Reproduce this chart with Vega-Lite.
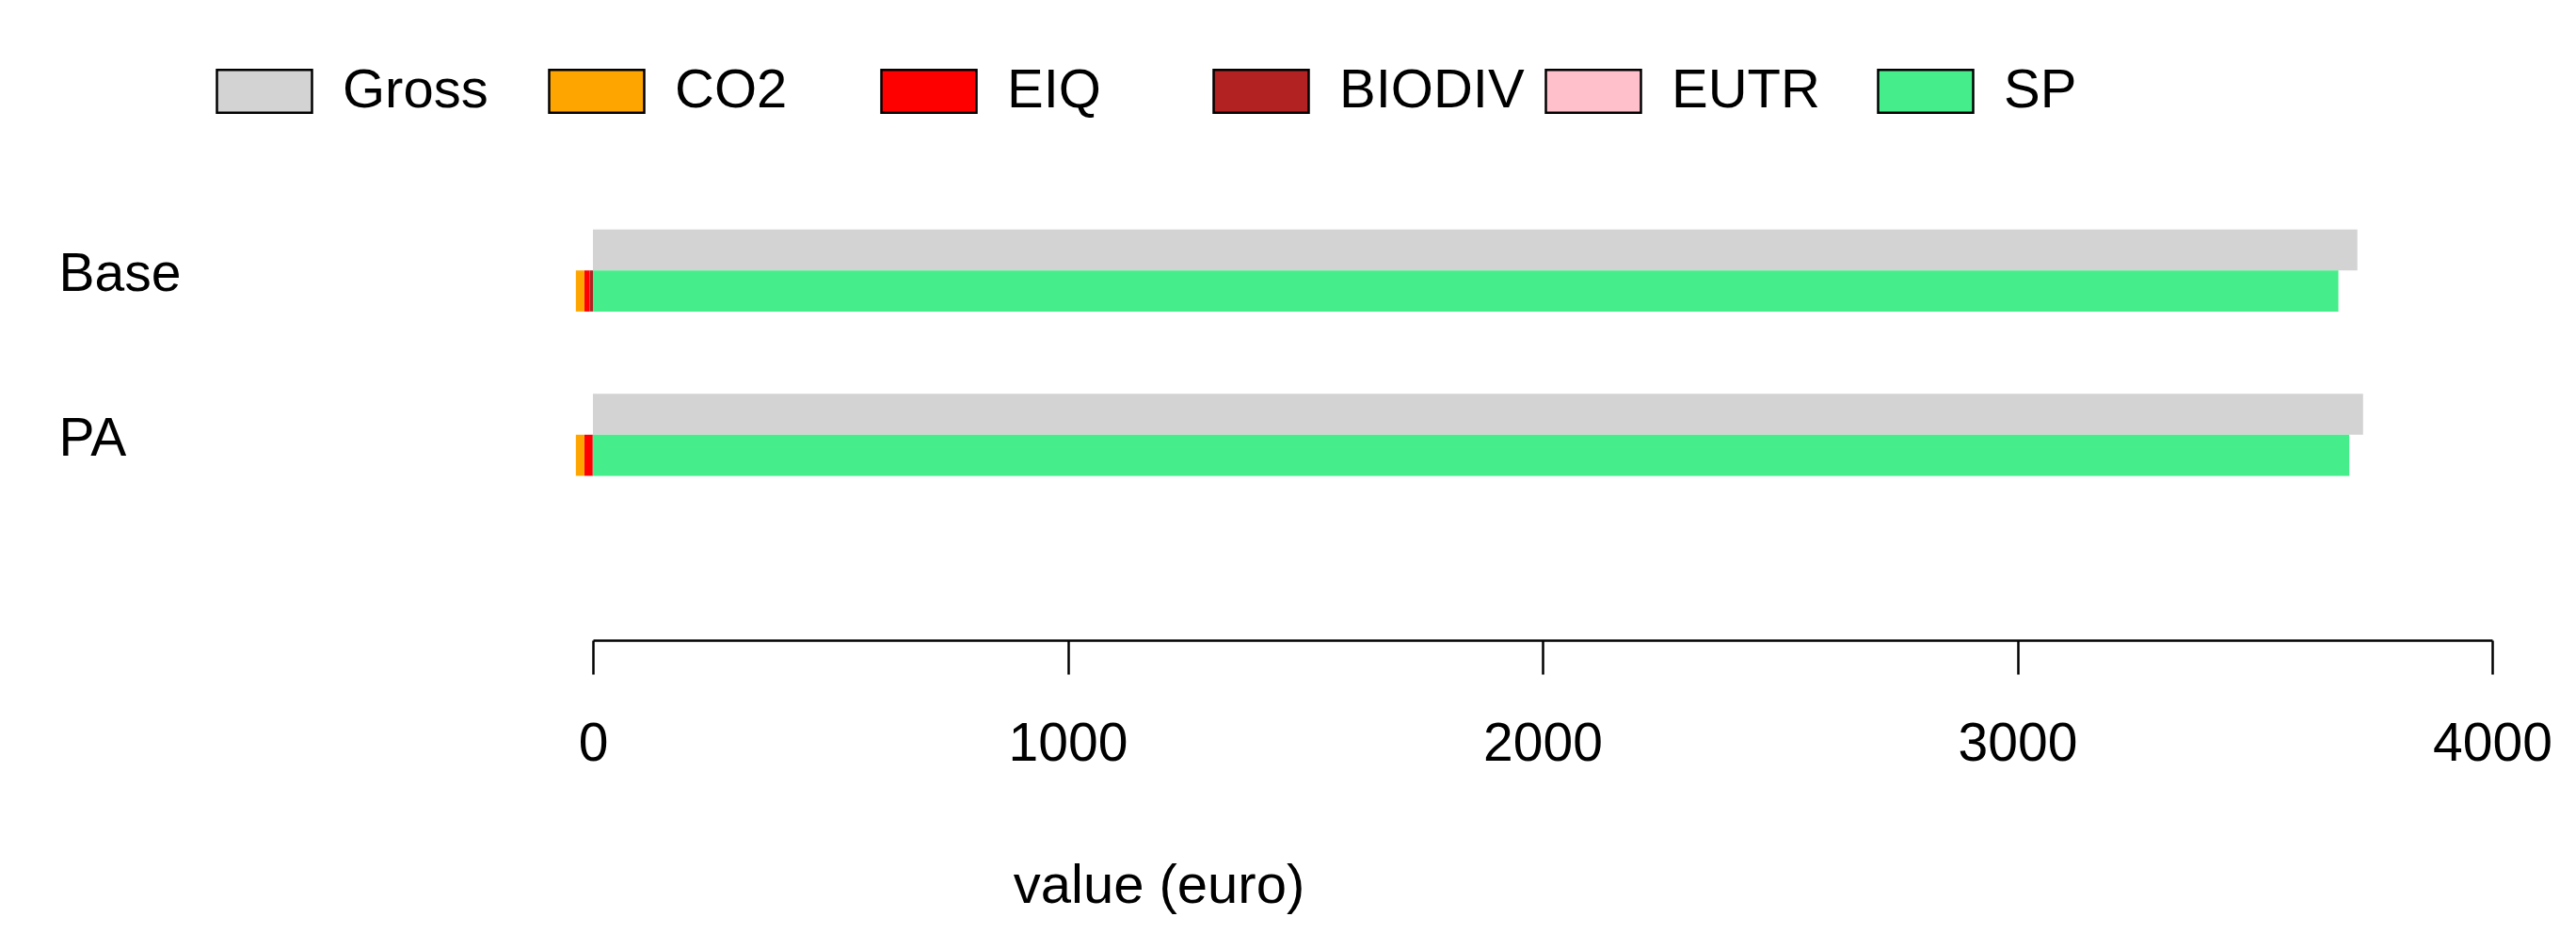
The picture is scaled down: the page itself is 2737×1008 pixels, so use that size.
{
  "$schema": "https://vega.github.io/schema/vega-lite/v6.json",
  "width": 2018,
  "height": 349,
  "autosize": "none",
  "padding": {"left": 630, "top": 200, "right": 89, "bottom": 459},
  "background": "white",
  "config": {
    "view": {"stroke": null},
    "font": "Liberation Sans"
  },
  "data": {
    "values": [
      {"scenario": "Base", "group": "Gross", "component": "Gross", "value": 3716, "ord": 0},
      {"scenario": "Base", "group": "Ext", "component": "BIODIV", "value": -7, "ord": 1},
      {"scenario": "Base", "group": "Ext", "component": "EIQ", "value": -11, "ord": 2},
      {"scenario": "Base", "group": "Ext", "component": "CO2", "value": -18, "ord": 3},
      {"scenario": "Base", "group": "Ext", "component": "EUTR", "value": 0, "ord": 4},
      {"scenario": "Base", "group": "Ext", "component": "SP", "value": 3676, "ord": 5},
      {"scenario": "PA", "group": "Gross", "component": "Gross", "value": 3728, "ord": 0},
      {"scenario": "PA", "group": "Ext", "component": "BIODIV", "value": -1, "ord": 1},
      {"scenario": "PA", "group": "Ext", "component": "EIQ", "value": -17, "ord": 2},
      {"scenario": "PA", "group": "Ext", "component": "CO2", "value": -18, "ord": 3},
      {"scenario": "PA", "group": "Ext", "component": "EUTR", "value": 0, "ord": 4},
      {"scenario": "PA", "group": "Ext", "component": "SP", "value": 3699, "ord": 5}
    ]
  },
  "encoding": {
    "y": {
      "field": "scenario", "type": "nominal", "sort": ["Base", "PA"],
      "scale": {"paddingInner": 0, "paddingOuter": 0},
      "axis": {
        "title": null, "domain": false, "ticks": false, "tickSize": 0,
        "labelAlign": "left", "labelPadding": 568, "labelBaseline": "alphabetic",
        "labelOffset": 22, "labelFontSize": 57, "labelColor": "black", "labelFont": "Liberation Sans"
      }
    },
    "yOffset": {
      "field": "group", "type": "nominal", "sort": ["Gross", "Ext"],
      "scale": {"paddingInner": 0, "paddingOuter": 1.03}
    },
    "x": {
      "field": "value", "type": "quantitative",
      "scale": {"domain": [0, 4000], "nice": false, "zero": false},
      "axis": {
        "title": "value (euro)", "values": [0, 1000, 2000, 3000, 4000], "format": "d", "grid": false,
        "offset": 131, "domainColor": "black", "domainWidth": 2.5, "tickColor": "black",
        "tickWidth": 2.5, "tickSize": 36, "labelPadding": 91, "labelBaseline": "alphabetic",
        "labelFontSize": 57, "labelColor": "black", "labelFlush": false, "labelFont": "Liberation Sans",
        "titleFontSize": 58, "titleFontWeight": "normal", "titleColor": "black",
        "titleX": 601, "titleY": 278, "titleBaseline": "alphabetic", "titleAlign": "center",
        "titleFont": "Liberation Sans"
      }
    },
    "color": {
      "field": "component", "type": "nominal",
      "scale": {
        "domain": ["Gross", "CO2", "EIQ", "BIODIV", "EUTR", "SP"],
        "range": ["#d3d3d3", "#ffa500", "#ff0000", "#b22222", "#ffc0cb", "#45ee8a"]
      },
      "legend": {
        "title": null, "orient": "none", "direction": "horizontal", "columns": 6,
        "gridAlign": "all", "legendX": -401, "legendY": -155, "padding": 0,
        "symbolType": "M-1,-0.45L1,-0.45L1,0.45L-1,0.45Z", "symbolSize": 10201,
        "symbolStrokeColor": "black", "symbolStrokeWidth": 2.5, "symbolOpacity": 1,
        "labelFontSize": 58, "labelColor": "black", "labelOffset": 31, "labelLimit": 400,
        "columnPadding": 17, "labelFont": "Liberation Sans"
      }
    },
    "order": {"field": "ord", "type": "quantitative"}
  },
  "layer": [
    {
      "transform": [{"filter": "datum.group === 'Gross'"}],
      "mark": {"type": "bar", "opacity": 1}
    },
    {
      "transform": [{"filter": "datum.group === 'Ext'"}],
      "mark": {"type": "bar", "opacity": 1}
    }
  ]
}
